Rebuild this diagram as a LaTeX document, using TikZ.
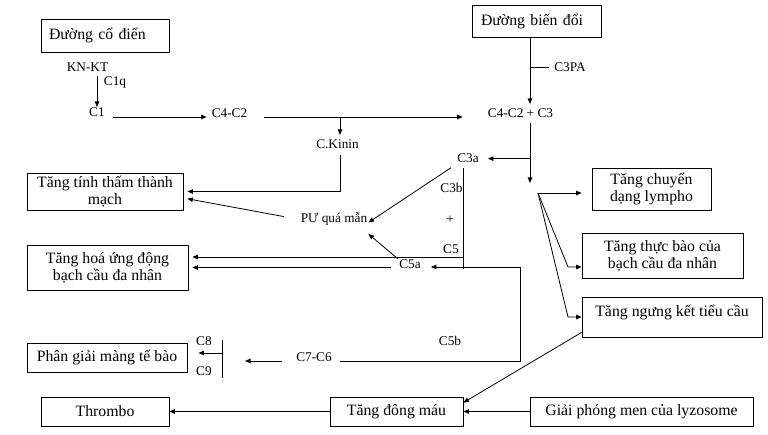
\documentclass[tikz,border=0pt]{standalone}
\usepackage{fontspec}
\setmainfont{Liberation Serif}
\usetikzlibrary{arrows.meta}
\tikzset{
  box/.style={draw, line width=0.8pt, inner sep=0pt, align=center, font=\fontsize{15.8}{17}\selectfont},
  lbl/.style={inner sep=1pt, font=\fontsize{13.3}{15}\selectfont, anchor=base},
  ln/.style={line width=0.8pt},
  arr/.style={ln, -{Triangle[length=5.5pt,width=4.5pt]}}
}
\begin{document}
\begin{tikzpicture}[x=1pt,y=-1pt]
\useasboundingbox (0,0) rectangle (768,435);
% boxes
\node[box, minimum width=128pt, minimum height=33pt, text width=112pt, align=left] (classic) at (105,35.5) {Đường cổ điển};
\node[box, minimum width=129pt, minimum height=32pt, text width=111pt, align=left] (alt) at (536.5,21) {Đường biến đổi};
\node[box, minimum width=156pt, minimum height=37pt] (perm) at (105,191.5) {Tăng tính thấm thành\\mạch};
\node[box, minimum width=161pt, minimum height=45pt] (chemo) at (107.5,267.5) {Tăng hoá ứng động\\bạch cầu đa nhân};
\node[box, minimum width=160pt, minimum height=29pt] (lysis) at (107,357.5) {Phân giải màng tế bào};
\node[box, minimum width=128pt, minimum height=29pt] (thrombo) at (105,411.5) {Thrombo};
\node[box, minimum width=133pt, minimum height=29pt] (coag) at (396.5,411.5) {Tăng đông máu};
\node[box, minimum width=223pt, minimum height=29pt] (lyso) at (641.5,411.5) {Giải phóng men của lyzosome};
\node[box, minimum width=119pt, minimum height=42pt] (lympho) at (651.5,189) {Tăng chuyển\\dạng lympho};
\node[box, minimum width=161pt, minimum height=45pt] (phago) at (662.5,255.5) {Tăng thực bào của\\bạch cầu đa nhân};
\node[box, minimum width=180pt, minimum height=40pt, text depth=12pt] (aggr) at (672,317) {Tăng ngưng kết tiểu cầu};
% labels
\node[lbl] (knkt) at (87.5,72) {KN-KT};
\node[lbl] (c1q) at (115,86) {C1q};
\node[lbl] (c1) at (97,117) {C1};
\node[lbl] (c42) at (229.5,118) {C4-C2};
\node[lbl] (ckinin) at (337.5,149) {C.Kinin};
\node[lbl] (c423) at (520.5,118) {C4-C2 + C3};
\node[lbl] (c3pa) at (570,72) {C3PA};
\node[lbl] (c3a) at (468,163) {C3a};
\node[lbl] (c3b) at (451.5,193) {C3b};
\node[lbl] (plus) at (450,224) {+};
\node[lbl] (c5) at (451,254) {C5};
\node[lbl] (c5a) at (410,269) {C5a};
\node[lbl] (pu) at (334,223) {PƯ quá mẫn};
\node[lbl] (c5b) at (450,346) {C5b};
\node[lbl] (c76) at (314,361) {C7-C6};
\node[lbl] (c8) at (204,345) {C8};
\node[lbl] (c9) at (204,375) {C9};
% helper coordinates
\coordinate (vx) at (530,0);
\coordinate (vb) at (463,0);
\coordinate (jk) at (340,117);
\coordinate (dn) at (530,183);
\coordinate (j5) at (463,257);
\coordinate (r1) at (520,361);
\coordinate (r2) at (520,267);
\coordinate (bt) at (222,340);
\coordinate (bb) at (222,378);
\coordinate (bm) at (222,353);
\coordinate (fo) at (538,193);
\coordinate (f1) at (568,267);
\coordinate (f2) at (568,317);
% classic pathway
\draw[arr, shorten <=3pt] (knkt.south -| c1) -- (c1.north);
\draw[arr, shorten <=7pt, shorten >=4pt] (c1.base east) -- (c42.base west |- c1.base east);
\draw[arr, shorten <=16pt, shorten >=24pt] (c42.base east |- jk) -- (c423.base west |- jk);
\draw[arr, shorten >=4pt] (jk) -- (jk |- ckinin.north);
\draw[arr, shorten <=5pt, shorten >=4pt] (jk |- ckinin.south) -- (jk |- perm.east) -- (perm.east);
\draw[arr, shorten <=16pt, shorten >=4pt] (pu.west) -- ([yshift=-6.5pt]perm.east);
% alternative pathway
\draw[arr, shorten >=4pt] (alt.south -| vx) -- (c423.north -| vx);
\draw[ln, shorten >=4pt] (c3pa.west -| vx) -- (c3pa.west);
\draw[arr, shorten <=4pt] (c423.south -| vx) -- (dn);
\draw[arr, shorten >=8pt] (c3a -| vx) -- (c3a.east);
\draw[arr, shorten <=6pt] (c3a.south west) -- ([yshift=-3pt]pu.east);
% C3b + C5
\draw[ln, shorten <=4pt] (c3a.south -| vb) -- (c5a.base -| vb);
\draw[arr, shorten >=4pt] (j5) -- (j5 -| chemo.east);
\draw[arr, shorten <=7pt, shorten >=4pt] (chemo.east -| c5a.west) -- (chemo.east);
\draw[arr] (c5a.north west) -- ([yshift=-7pt]pu.south east);
\draw[arr, shorten <=7pt, shorten >=9pt] (c76.base east) -- (r1) -- (r2) -- (r2 -| c5a.east);
% C7-C6 -> C8/C9
\draw[ln] (bt) -- (bb);
\draw[arr, shorten <=13pt, shorten >=23pt] (c76.base west) -- (c76.base west -| bt);
\draw[arr, shorten >=11pt] (bm) -- (bm -| lysis.east);
% fan
\draw[arr, shorten >=10pt] (fo) -- (fo -| lympho.west);
\draw[arr] (fo) -- (f1) -- (f1 -| phago.west);
\draw[arr] (fo) -- (f2) -- (f2 -| aggr.west);
% bottom
\draw[arr] ([yshift=5pt]aggr.south west) -- ([yshift=-6pt]coag.north east);
\draw[arr] (lyso.west) -- (coag.east);
\draw[arr] (coag.west) -- (thrombo.east);
\end{tikzpicture}
\end{document}
